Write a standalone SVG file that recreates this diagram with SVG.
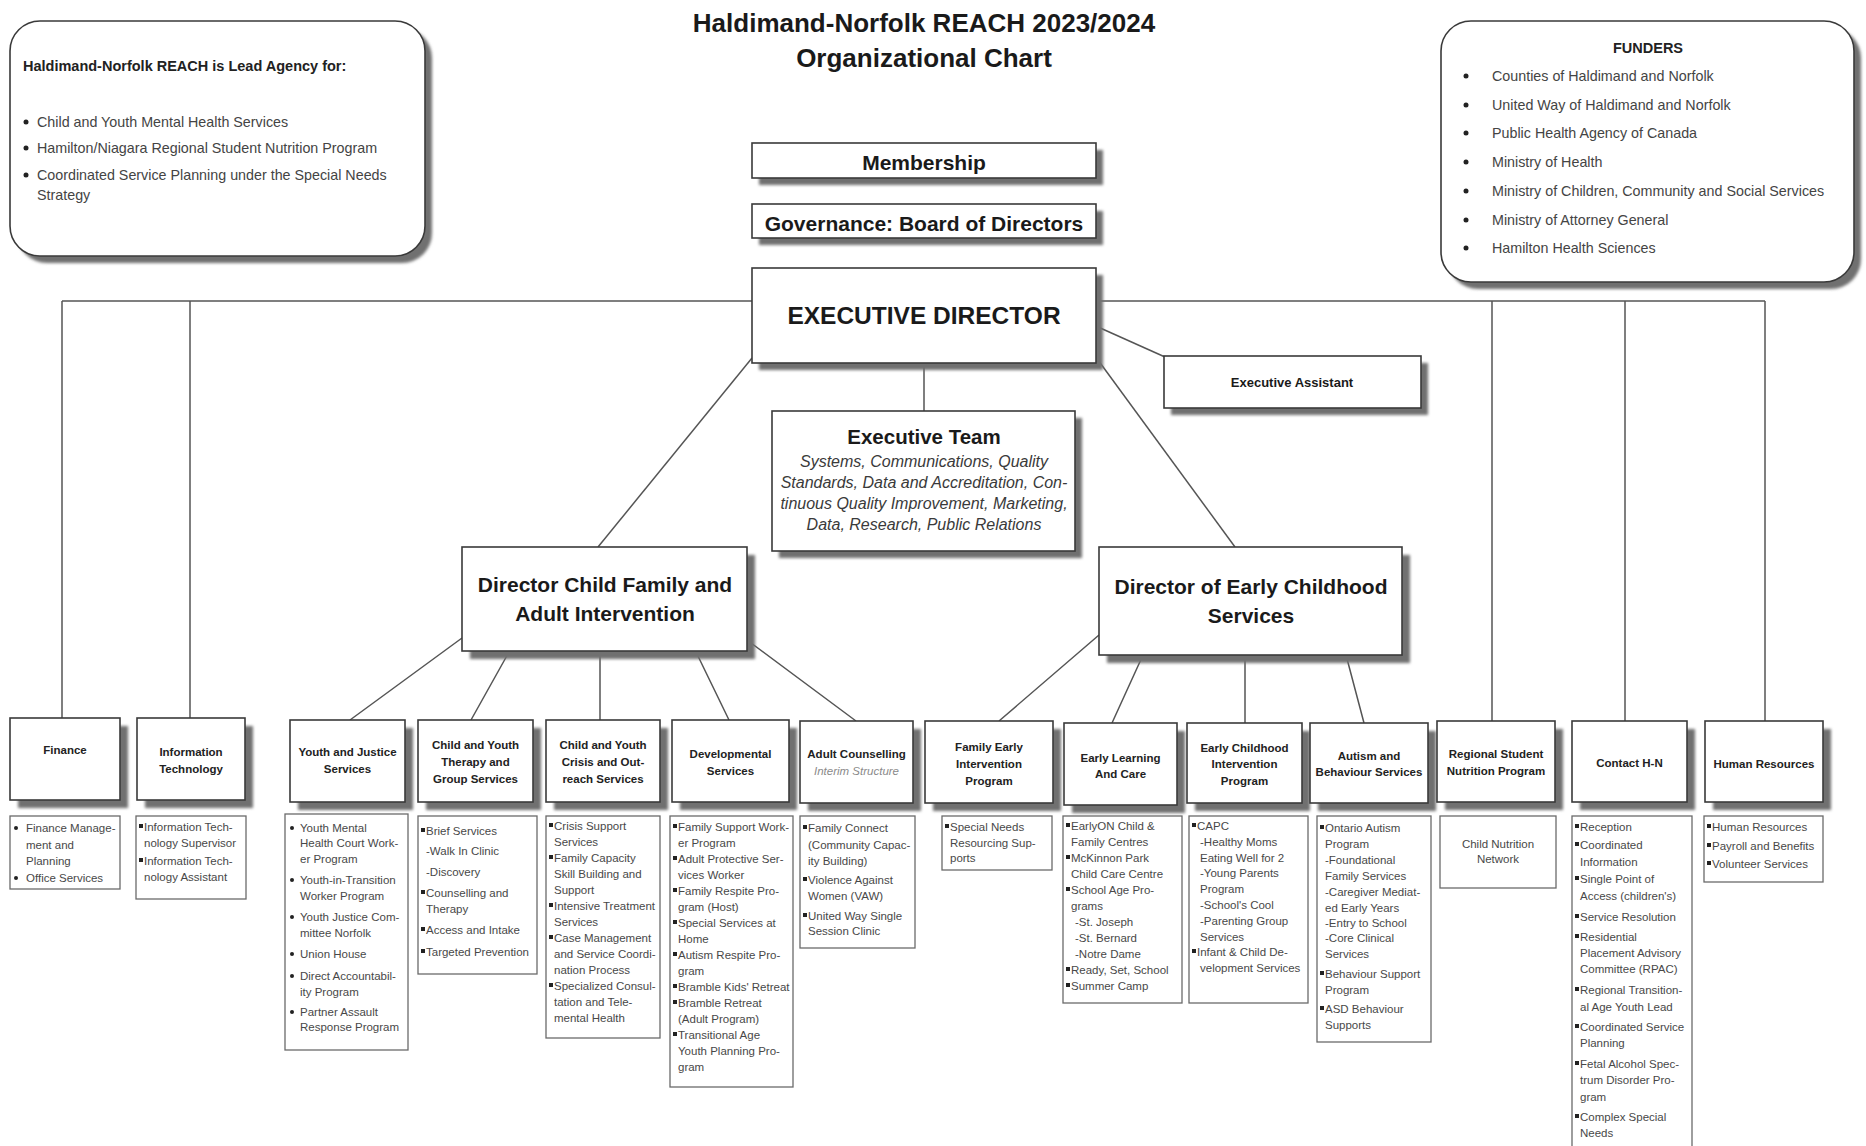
<svg xmlns="http://www.w3.org/2000/svg" width="1866" height="1146" viewBox="0 0 1866 1146">
<defs>
<filter id="blur" x="-10%" y="-10%" width="120%" height="120%"><feGaussianBlur stdDeviation="1.6"/></filter>
<style>
text{font-family:"Liberation Sans",Arial,sans-serif}
.bx{fill:#fff;stroke:#3a3a3a;stroke-width:1.6}
.sh{fill:#707070;filter:url(#blur)}
.dt{fill:#fff;stroke:#6a6a6a;stroke-width:1.3}
.conn path{stroke:#555;stroke-width:1.5;fill:none}
.title{font-size:26px;font-weight:bold;fill:#1a1a1a;text-anchor:middle}
.big{font-weight:bold;fill:#1a1a1a;text-anchor:middle}
.nb{font-size:11.5px;font-weight:bold;fill:#222;text-anchor:middle}
.d{font-size:11.5px;fill:#484848}
.dc{font-size:11.5px;fill:#484848;text-anchor:middle}
.it{font-style:italic;fill:#3a3a3a;font-size:16px;text-anchor:middle}
.top{font-size:14.3px;fill:#444}
.topb{font-size:14.5px;font-weight:bold;fill:#222}
.bul{fill:#222}
</style>
</defs>
<rect width="1866" height="1146" fill="#fff"/>

<g id="title">
<text class="title" x="924" y="32">Haldimand-Norfolk REACH 2023/2024</text>
<text class="title" x="924" y="67">Organizational Chart</text>
</g>

<g class="conn" id="connectors">
<path d="M62,301 H1765"/>
<path d="M62,301 V720 M190,301 V720 M1492,301 V721 M1625,301 V721 M1765,301 V721"/>
<path d="M924,363 V411"/>
<path d="M1098,327 L1165,357"/>
<path d="M752,358 L598,547"/>
<path d="M1098,360 L1235,547"/>
<path d="M462,638 L350,720 M509,652 L471,720 M600,652 V720 M696,652 L729,720 M747,640 L856,721"/>
<path d="M1099,635 L999,721 M1143,655 L1112,723 M1245,655 V723 M1346,655 L1364,723"/>
</g>

<g id="lead-agency">
<rect class="sh" x="17" y="28" width="415" height="235" rx="30"/>
<rect class="bx" x="10" y="21" width="415" height="235" rx="30"/>
<text class="topb" x="23" y="71">Haldimand-Norfolk REACH is Lead Agency for:</text>
<circle class="bul" cx="26" cy="122" r="2.5"/>
<circle class="bul" cx="26" cy="148" r="2.5"/>
<circle class="bul" cx="26" cy="175" r="2.5"/>
<text class="top" x="37" y="127">Child and Youth Mental Health Services</text>
<text class="top" x="37" y="153">Hamilton/Niagara Regional Student Nutrition Program</text>
<text class="top" x="37" y="180">Coordinated Service Planning under the Special Needs</text>
<text class="top" x="37" y="200">Strategy</text>
</g>

<g id="funders">
<rect class="sh" x="1448" y="28" width="413" height="261" rx="30"/>
<rect class="bx" x="1441" y="21" width="413" height="261" rx="30"/>
<text class="topb" x="1648" y="53" text-anchor="middle">FUNDERS</text>
<g class="bul">
<circle cx="1466" cy="76" r="2.5"/><circle cx="1466" cy="105" r="2.5"/><circle cx="1466" cy="133" r="2.5"/><circle cx="1466" cy="162" r="2.5"/><circle cx="1466" cy="191" r="2.5"/><circle cx="1466" cy="220" r="2.5"/><circle cx="1466" cy="248" r="2.5"/>
</g>
<text class="top" x="1492" y="81">Counties of Haldimand and Norfolk</text>
<text class="top" x="1492" y="110">United Way of Haldimand and Norfolk</text>
<text class="top" x="1492" y="138">Public Health Agency of Canada</text>
<text class="top" x="1492" y="167">Ministry of Health</text>
<text class="top" x="1492" y="196">Ministry of Children, Community and Social Services</text>
<text class="top" x="1492" y="225">Ministry of Attorney General</text>
<text class="top" x="1492" y="253">Hamilton Health Sciences</text>
</g>

<g id="membership">
<rect class="sh" x="759" y="150" width="344" height="35"/>
<rect class="bx" x="752" y="143" width="344" height="35"/>
<text class="big" x="924" y="170" font-size="21">Membership</text>
</g>

<g id="governance">
<rect class="sh" x="759" y="211" width="344" height="34"/>
<rect class="bx" x="752" y="204" width="344" height="34"/>
<text class="big" x="924" y="231" font-size="21">Governance: Board of Directors</text>
</g>

<g id="executive-director">
<rect class="sh" x="759" y="275" width="344" height="95"/>
<rect class="bx" x="752" y="268" width="344" height="95"/>
<text class="big" x="924" y="324" font-size="24.5">EXECUTIVE DIRECTOR</text>
</g>

<g id="executive-assistant">
<rect class="sh" x="1171" y="363" width="257" height="52"/>
<rect class="bx" x="1164" y="356" width="257" height="52"/>
<text class="big" x="1292" y="387" font-size="13">Executive Assistant</text>
</g>

<g id="executive-team">
<rect class="sh" x="779" y="418" width="303" height="140"/>
<rect class="bx" x="772" y="411" width="303" height="140"/>
<text class="big" x="924" y="444" font-size="20.5">Executive Team</text>
<text class="it" x="924" y="467">Systems, Communications, Quality</text>
<text class="it" x="924" y="488">Standards, Data and Accreditation, Con-</text>
<text class="it" x="924" y="509">tinuous Quality Improvement, Marketing,</text>
<text class="it" x="924" y="530">Data, Research, Public Relations</text>
</g>

<g id="director-child-family">
<rect class="sh" x="470" y="555" width="285" height="104"/>
<rect class="bx" x="462" y="547" width="285" height="104"/>
<text class="big" x="605" y="592" font-size="21">Director Child Family and</text>
<text class="big" x="605" y="621" font-size="21">Adult Intervention</text>
</g>

<g id="director-early-childhood">
<rect class="sh" x="1107" y="555" width="303" height="108"/>
<rect class="bx" x="1099" y="547" width="303" height="108"/>
<text class="big" x="1251" y="594" font-size="21">Director of Early Childhood</text>
<text class="big" x="1251" y="623" font-size="21">Services</text>
</g>

<!-- Bottom row -->
<g id="finance">
<rect class="sh" x="18" y="726" width="110" height="82"/>
<rect class="bx" x="10" y="718" width="110" height="82"/>
<text class="nb" x="65" y="754">Finance</text>
<rect class="dt" x="10" y="816" width="110" height="73"/>
<circle class="bul" cx="16" cy="828" r="2"/><circle class="bul" cx="16" cy="878" r="2"/>
<text class="d" x="26" y="832">Finance Manage-</text>
<text class="d" x="26" y="848.5">ment and</text>
<text class="d" x="26" y="865">Planning</text>
<text class="d" x="26" y="882">Office Services</text>
</g>

<g id="information-technology">
<rect class="sh" x="145" y="726" width="108" height="82"/>
<rect class="bx" x="137" y="718" width="108" height="82"/>
<text class="nb" x="191" y="756">Information</text>
<text class="nb" x="191" y="773">Technology</text>
<rect class="dt" x="136" y="816" width="110" height="83"/>
<rect class="bul" x="139" y="824" width="4" height="4"/><rect class="bul" x="139" y="858" width="4" height="4"/>
<text class="d" x="144" y="831">Information Tech-</text>
<text class="d" x="144" y="847">nology Supervisor</text>
<text class="d" x="144" y="865">Information Tech-</text>
<text class="d" x="144" y="881">nology Assistant</text>
</g>

<g id="youth-justice">
<rect class="sh" x="298" y="728" width="115" height="82"/>
<rect class="bx" x="290" y="720" width="115" height="82"/>
<text class="nb" x="347.5" y="756">Youth and Justice</text>
<text class="nb" x="347.5" y="773">Services</text>
<rect class="dt" x="285" y="814" width="123" height="236"/>
<g class="bul"><circle cx="292" cy="828" r="2"/><circle cx="292" cy="880" r="2"/><circle cx="292" cy="917" r="2"/><circle cx="292" cy="954" r="2"/><circle cx="292" cy="976" r="2"/><circle cx="292" cy="1012" r="2"/></g>
<text class="d" x="300" y="832">Youth Mental</text>
<text class="d" x="300" y="847">Health Court Work-</text>
<text class="d" x="300" y="863">er Program</text>
<text class="d" x="300" y="884">Youth-in-Transition</text>
<text class="d" x="300" y="900">Worker Program</text>
<text class="d" x="300" y="921">Youth Justice Com-</text>
<text class="d" x="300" y="937">mittee Norfolk</text>
<text class="d" x="300" y="958">Union House</text>
<text class="d" x="300" y="980">Direct Accountabil-</text>
<text class="d" x="300" y="996">ity Program</text>
<text class="d" x="300" y="1016">Partner Assault</text>
<text class="d" x="300" y="1031">Response Program</text>
</g>

<g id="therapy-group">
<rect class="sh" x="426" y="728" width="115" height="82"/>
<rect class="bx" x="418" y="720" width="115" height="82"/>
<text class="nb" x="475.5" y="749">Child and Youth</text>
<text class="nb" x="475.5" y="766">Therapy and</text>
<text class="nb" x="475.5" y="783">Group Services</text>
<rect class="dt" x="418" y="816" width="119" height="158"/>
<g class="bul"><rect x="421" y="828" width="4" height="4"/><rect x="421" y="890" width="4" height="4"/><rect x="421" y="927" width="4" height="4"/><rect x="421" y="949" width="4" height="4"/></g>
<text class="d" x="426" y="835">Brief Services</text>
<text class="d" x="426" y="855">-Walk In Clinic</text>
<text class="d" x="426" y="876">-Discovery</text>
<text class="d" x="426" y="897">Counselling and</text>
<text class="d" x="426" y="913">Therapy</text>
<text class="d" x="426" y="934">Access and Intake</text>
<text class="d" x="426" y="956">Targeted Prevention</text>
</g>

<g id="crisis-outreach">
<rect class="sh" x="554" y="728" width="114" height="82"/>
<rect class="bx" x="546" y="720" width="114" height="82"/>
<text class="nb" x="603" y="749">Child and Youth</text>
<text class="nb" x="603" y="766">Crisis and Out-</text>
<text class="nb" x="603" y="783">reach Services</text>
<rect class="dt" x="546" y="816" width="114" height="222"/>
<g class="bul"><rect x="549" y="823" width="4" height="4"/><rect x="549" y="855" width="4" height="4"/><rect x="549" y="903" width="4" height="4"/><rect x="549" y="935" width="4" height="4"/><rect x="549" y="983" width="4" height="4"/></g>
<text class="d" x="554" y="830">Crisis Support</text>
<text class="d" x="554" y="846">Services</text>
<text class="d" x="554" y="862">Family Capacity</text>
<text class="d" x="554" y="878">Skill Building and</text>
<text class="d" x="554" y="894">Support</text>
<text class="d" x="554" y="910">Intensive Treatment</text>
<text class="d" x="554" y="926">Services</text>
<text class="d" x="554" y="942">Case Management</text>
<text class="d" x="554" y="958">and Service Coordi-</text>
<text class="d" x="554" y="974">nation Process</text>
<text class="d" x="554" y="990">Specialized Consul-</text>
<text class="d" x="554" y="1006">tation and Tele-</text>
<text class="d" x="554" y="1022">mental Health</text>
</g>

<g id="developmental">
<rect class="sh" x="680" y="728" width="117" height="82"/>
<rect class="bx" x="672" y="720" width="117" height="82"/>
<text class="nb" x="730.5" y="758">Developmental</text>
<text class="nb" x="730.5" y="775">Services</text>
<rect class="dt" x="670" y="816" width="123" height="271"/>
<g class="bul"><rect x="673" y="824" width="4" height="4"/><rect x="673" y="856" width="4" height="4"/><rect x="673" y="888" width="4" height="4"/><rect x="673" y="920" width="4" height="4"/><rect x="673" y="952" width="4" height="4"/><rect x="673" y="984" width="4" height="4"/><rect x="673" y="1000" width="4" height="4"/><rect x="673" y="1032" width="4" height="4"/></g>
<text class="d" x="678" y="831">Family Support Work-</text>
<text class="d" x="678" y="847">er Program</text>
<text class="d" x="678" y="863">Adult Protective Ser-</text>
<text class="d" x="678" y="879">vices Worker</text>
<text class="d" x="678" y="895">Family Respite Pro-</text>
<text class="d" x="678" y="911">gram (Host)</text>
<text class="d" x="678" y="927">Special Services at</text>
<text class="d" x="678" y="943">Home</text>
<text class="d" x="678" y="959">Autism Respite Pro-</text>
<text class="d" x="678" y="975">gram</text>
<text class="d" x="678" y="991">Bramble Kids' Retreat</text>
<text class="d" x="678" y="1007">Bramble Retreat</text>
<text class="d" x="678" y="1023">(Adult Program)</text>
<text class="d" x="678" y="1039">Transitional Age</text>
<text class="d" x="678" y="1055">Youth Planning Pro-</text>
<text class="d" x="678" y="1071">gram</text>
</g>

<g id="adult-counselling">
<rect class="sh" x="808" y="729" width="113" height="82"/>
<rect class="bx" x="800" y="721" width="113" height="82"/>
<text class="nb" x="856.5" y="758">Adult Counselling</text>
<text class="dc" x="856.5" y="775" font-style="italic" fill="#8a8a8a" style="fill:#8a8a8a">Interim Structure</text>
<rect class="dt" x="800" y="816" width="115" height="132"/>
<g class="bul"><rect x="803" y="825" width="4" height="4"/><rect x="803" y="877" width="4" height="4"/><rect x="803" y="913" width="4" height="4"/></g>
<text class="d" x="808" y="832">Family Connect</text>
<text class="d" x="808" y="849">(Community Capac-</text>
<text class="d" x="808" y="865">ity Building)</text>
<text class="d" x="808" y="884">Violence Against</text>
<text class="d" x="808" y="900">Women (VAW)</text>
<text class="d" x="808" y="920">United Way Single</text>
<text class="d" x="808" y="935">Session Clinic</text>
</g>

<g id="family-early-intervention">
<rect class="sh" x="933" y="729" width="128" height="82"/>
<rect class="bx" x="925" y="721" width="128" height="82"/>
<text class="nb" x="989" y="751">Family Early</text>
<text class="nb" x="989" y="768">Intervention</text>
<text class="nb" x="989" y="785">Program</text>
<rect class="dt" x="942" y="816" width="110" height="54"/>
<rect class="bul" x="945" y="824" width="4" height="4"/>
<text class="d" x="950" y="831">Special Needs</text>
<text class="d" x="950" y="847">Resourcing Sup-</text>
<text class="d" x="950" y="862">ports</text>
</g>

<g id="early-learning">
<rect class="sh" x="1072" y="731" width="113" height="82"/>
<rect class="bx" x="1064" y="723" width="113" height="82"/>
<text class="nb" x="1120.5" y="762">Early Learning</text>
<text class="nb" x="1120.5" y="778">And Care</text>
<rect class="dt" x="1063" y="816" width="119" height="187"/>
<g class="bul"><rect x="1066" y="823" width="4" height="4"/><rect x="1066" y="855" width="4" height="4"/><rect x="1066" y="887" width="4" height="4"/><rect x="1066" y="967" width="4" height="4"/><rect x="1066" y="983" width="4" height="4"/></g>
<text class="d" x="1071" y="830">EarlyON Child &amp;</text>
<text class="d" x="1071" y="846">Family Centres</text>
<text class="d" x="1071" y="862">McKinnon Park</text>
<text class="d" x="1071" y="878">Child Care Centre</text>
<text class="d" x="1071" y="894">School Age Pro-</text>
<text class="d" x="1071" y="910">grams</text>
<text class="d" x="1075" y="926">-St. Joseph</text>
<text class="d" x="1075" y="942">-St. Bernard</text>
<text class="d" x="1075" y="958">-Notre Dame</text>
<text class="d" x="1071" y="974">Ready, Set, School</text>
<text class="d" x="1071" y="990">Summer Camp</text>
</g>

<g id="early-childhood-intervention">
<rect class="sh" x="1195" y="731" width="115" height="80"/>
<rect class="bx" x="1187" y="723" width="115" height="80"/>
<text class="nb" x="1244.5" y="752">Early Childhood</text>
<text class="nb" x="1244.5" y="768">Intervention</text>
<text class="nb" x="1244.5" y="785">Program</text>
<rect class="dt" x="1189" y="816" width="119" height="187"/>
<g class="bul"><rect x="1192" y="823" width="4" height="4"/><rect x="1192" y="949" width="4" height="4"/></g>
<text class="d" x="1197" y="830">CAPC</text>
<text class="d" x="1200" y="846">-Healthy Moms</text>
<text class="d" x="1200" y="862">Eating Well for 2</text>
<text class="d" x="1200" y="877">-Young Parents</text>
<text class="d" x="1200" y="893">Program</text>
<text class="d" x="1200" y="909">-School's Cool</text>
<text class="d" x="1200" y="925">-Parenting Group</text>
<text class="d" x="1200" y="941">Services</text>
<text class="d" x="1197" y="956">Infant &amp; Child De-</text>
<text class="d" x="1200" y="972">velopment Services</text>
</g>

<g id="autism-behaviour">
<rect class="sh" x="1318" y="731" width="118" height="80"/>
<rect class="bx" x="1310" y="723" width="118" height="80"/>
<text class="nb" x="1369" y="760">Autism and</text>
<text class="nb" x="1369" y="776">Behaviour Services</text>
<rect class="dt" x="1317" y="816" width="114" height="226"/>
<g class="bul"><rect x="1320" y="825" width="4" height="4"/><rect x="1320" y="971" width="4" height="4"/><rect x="1320" y="1006" width="4" height="4"/></g>
<text class="d" x="1325" y="832">Ontario Autism</text>
<text class="d" x="1325" y="848">Program</text>
<text class="d" x="1325" y="864">-Foundational</text>
<text class="d" x="1325" y="880">Family Services</text>
<text class="d" x="1325" y="896">-Caregiver Mediat-</text>
<text class="d" x="1325" y="912">ed Early Years</text>
<text class="d" x="1325" y="927">-Entry to School</text>
<text class="d" x="1325" y="942">-Core Clinical</text>
<text class="d" x="1325" y="958">Services</text>
<text class="d" x="1325" y="978">Behaviour Support</text>
<text class="d" x="1325" y="994">Program</text>
<text class="d" x="1325" y="1013">ASD Behaviour</text>
<text class="d" x="1325" y="1029">Supports</text>
</g>

<g id="regional-student-nutrition">
<rect class="sh" x="1445" y="729" width="118" height="81"/>
<rect class="bx" x="1437" y="721" width="118" height="81"/>
<text class="nb" x="1496" y="758">Regional Student</text>
<text class="nb" x="1496" y="775">Nutrition Program</text>
<rect class="dt" x="1440" y="816" width="116" height="72"/>
<text class="dc" x="1498" y="848">Child Nutrition</text>
<text class="dc" x="1498" y="863">Network</text>
</g>

<g id="contact-hn">
<rect class="sh" x="1580" y="729" width="115" height="81"/>
<rect class="bx" x="1572" y="721" width="115" height="81"/>
<text class="nb" x="1629.5" y="767">Contact H-N</text>
<rect class="dt" x="1572" y="816" width="120" height="340"/>
<g class="bul"><rect x="1575" y="824" width="4" height="4"/><rect x="1575" y="842" width="4" height="4"/><rect x="1575" y="876" width="4" height="4"/><rect x="1575" y="914" width="4" height="4"/><rect x="1575" y="934" width="4" height="4"/><rect x="1575" y="987" width="4" height="4"/><rect x="1575" y="1024" width="4" height="4"/><rect x="1575" y="1061" width="4" height="4"/><rect x="1575" y="1114" width="4" height="4"/></g>
<text class="d" x="1580" y="831">Reception</text>
<text class="d" x="1580" y="849">Coordinated</text>
<text class="d" x="1580" y="866">Information</text>
<text class="d" x="1580" y="883">Single Point of</text>
<text class="d" x="1580" y="900">Access (children's)</text>
<text class="d" x="1580" y="921">Service Resolution</text>
<text class="d" x="1580" y="941">Residential</text>
<text class="d" x="1580" y="957">Placement Advisory</text>
<text class="d" x="1580" y="973">Committee (RPAC)</text>
<text class="d" x="1580" y="994">Regional Transition-</text>
<text class="d" x="1580" y="1011">al Age Youth Lead</text>
<text class="d" x="1580" y="1031">Coordinated Service</text>
<text class="d" x="1580" y="1047">Planning</text>
<text class="d" x="1580" y="1068">Fetal Alcohol Spec-</text>
<text class="d" x="1580" y="1084">trum Disorder Pro-</text>
<text class="d" x="1580" y="1101">gram</text>
<text class="d" x="1580" y="1121">Complex Special</text>
<text class="d" x="1580" y="1137">Needs</text>
</g>

<g id="human-resources">
<rect class="sh" x="1713" y="729" width="118" height="81"/>
<rect class="bx" x="1705" y="721" width="118" height="81"/>
<text class="nb" x="1764" y="768">Human Resources</text>
<rect class="dt" x="1704" y="816" width="119" height="66"/>
<g class="bul"><rect x="1707" y="824" width="4" height="4"/><rect x="1707" y="843" width="4" height="4"/><rect x="1707" y="861" width="4" height="4"/></g>
<text class="d" x="1712" y="831">Human Resources</text>
<text class="d" x="1712" y="850">Payroll and Benefits</text>
<text class="d" x="1712" y="868">Volunteer Services</text>
</g>
</svg>
